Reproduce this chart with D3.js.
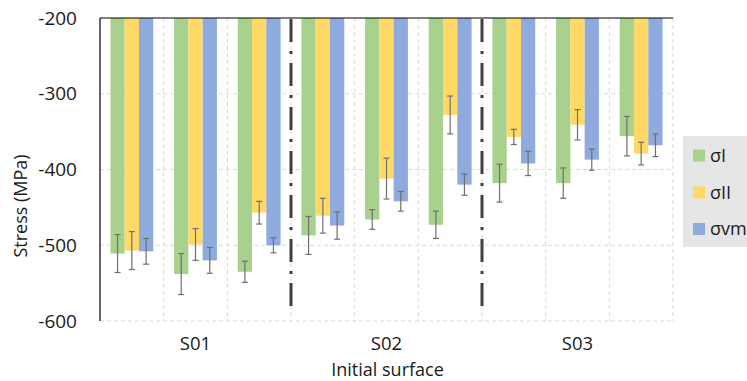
<!DOCTYPE html>
<html>
<head>
<meta charset="utf-8">
<script src="https://cdn.jsdelivr.net/npm/d3@7"></script>
<style>
  html, body { margin: 0; padding: 0; background: #fff; }
  svg { display: block; font-family: "Open Sans", "Noto Sans", sans-serif; }
</style>
</head>
<body>
<svg id="chart" width="747" height="381"></svg>
<script>
// ---- data ----
const samples = ["S01", "S02", "S03"];
const groups = ["S01-a", "S01-b", "S01-c", "S02-a", "S02-b", "S02-c", "S03-a", "S03-b", "S03-c"];
const seriesNames = ["σI", "σII", "σvm"];
const sigmaI  = [-511, -538, -535, -487, -466, -473, -418, -418, -356];
const sigmaII = [-507, -499, -457, -461, -412, -328, -357, -341, -379];
const sigmaVM = [-508, -520, -500, -474, -442, -420, -392, -387, -368];
const errI  = [25, 27, 14, 25, 13, 18, 25, 20, 26];
const errII = [25, 21, 15, 23, 27, 25, 10, 20, 15];
const errVM = [17, 17, 10, 18, 13, 14, 16, 14, 15];
const yTicks = [-200, -300, -400, -500, -600];
const colors = ["#A9D18E", "#FFD966", "#8FAADC"];

(function () {
const values = [sigmaI, sigmaII, sigmaVM];
const errors = [errI, errII, errVM];

const svg = d3.select("#chart");
const pL = 100, pR = 673, pT = 18, pB = 321;
const txt = "#1a1a1a";

const y = d3.scaleLinear().domain([-600, -200]).range([pB, pT]);
const x = d3.scaleBand().domain(groups).range([pL, pR]).padding(0);
const xs = d3.scaleBand().domain(seriesNames).range([0, x.bandwidth()]).paddingInner(0).paddingOuter(0.73);

// gridlines
const grid = svg.append("g");
grid.selectAll("line.h").data(yTicks.filter(t => t !== -200)).join("line")
  .attr("x1", pL).attr("x2", pR)
  .attr("y1", d => y(d)).attr("y2", d => y(d))
  .attr("stroke", "#d9d9d9").attr("stroke-width", 1).attr("stroke-dasharray", "4,3");
grid.selectAll("line.v").data(groups.slice(1).concat(["end"])).join("line")
  .attr("x1", (d, i) => pL + (i + 1) * x.step()).attr("x2", (d, i) => pL + (i + 1) * x.step())
  .attr("y1", pT).attr("y2", pB)
  .attr("stroke", "#d9d9d9").attr("stroke-width", 1).attr("stroke-dasharray", "4,3");

// bars
const barsG = svg.append("g");
seriesNames.forEach((s, si) => {
  barsG.selectAll(null).data(groups).join("rect")
    .attr("x", d => x(d) + xs(s))
    .attr("y", y(-200))
    .attr("width", xs.bandwidth())
    .attr("height", (d, i) => y(values[si][i]) - y(-200))
    .attr("fill", colors[si]);
});

// error bars
const errG = svg.append("g").attr("stroke", "#6f6f6f").attr("stroke-width", 1.2);
seriesNames.forEach((s, si) => {
  groups.forEach((g, i) => {
    const cx = x(g) + xs(s) + xs.bandwidth() / 2;
    const v = values[si][i], e = errors[si][i];
    errG.append("line").attr("x1", cx).attr("x2", cx).attr("y1", y(v + e)).attr("y2", y(v - e));
    errG.append("line").attr("x1", cx - 3).attr("x2", cx + 3).attr("y1", y(v + e)).attr("y2", y(v + e));
    errG.append("line").attr("x1", cx - 3).attr("x2", cx + 3).attr("y1", y(v - e)).attr("y2", y(v - e));
  });
});

// separators (dash-dot)
[3, 6].forEach(k => {
  const sx = pL + k * x.step();
  svg.append("line").attr("x1", sx).attr("x2", sx)
    .attr("y1", pT + 1).attr("y2", 314)
    .attr("stroke", "#404040").attr("stroke-width", 3)
    .attr("stroke-dasharray", "23,9,3,9");
});

// axes lines
svg.append("line").attr("x1", pL).attr("x2", pR).attr("y1", pT).attr("y2", pT)
  .attr("stroke", "#000").attr("stroke-width", 1.2);
svg.append("line").attr("x1", pL).attr("x2", pL).attr("y1", pT).attr("y2", pB)
  .attr("stroke", "#000").attr("stroke-width", 1.2);

// y tick labels
svg.append("g").selectAll("text").data(yTicks).join("text")
  .attr("x", 77).attr("y", d => y(d)).attr("dy", "0.35em")
  .attr("text-anchor", "end").attr("font-size", 19).attr("fill", txt)
  .text(d => d);

// y title
svg.append("text").attr("transform", "translate(27,206) rotate(-90)")
  .attr("text-anchor", "middle").attr("font-size", 18).attr("fill", txt)
  .text("Stress (MPa)");

// x sample labels
svg.append("g").selectAll("text").data(samples).join("text")
  .attr("x", (d, i) => x(groups[i * 3 + 1]) + x.bandwidth() / 2)
  .attr("y", 350).attr("text-anchor", "middle").attr("font-size", 18.5).attr("fill", txt)
  .text(d => d);

svg.append("text").attr("x", (pL + pR) / 2 + 1).attr("y", 375.5)
  .attr("text-anchor", "middle").attr("font-size", 18).attr("fill", txt)
  .text("Initial surface");

// legend
const lg = svg.append("g");
lg.append("rect").attr("x", 683).attr("y", 136).attr("width", 70).attr("height", 111).attr("fill", "#e6e6e6");
const ly = [155.5, 192.5, 229];
seriesNames.forEach((s, i) => {
  lg.append("rect").attr("x", 693).attr("y", ly[i] - 6).attr("width", 12).attr("height", 12).attr("fill", colors[i]);
  lg.append("text").attr("x", 710).attr("y", ly[i]).attr("dy", "0.35em")
    .attr("font-size", 18).attr("fill", txt).text(s);
});
})();
</script>
</body>
</html>
